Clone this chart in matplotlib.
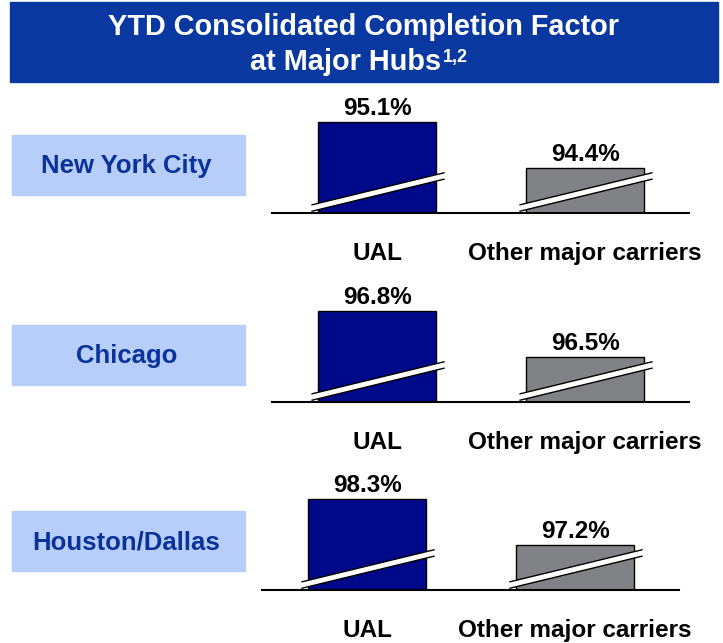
import matplotlib
matplotlib.use('Agg')
import matplotlib.pyplot as plt
from matplotlib.patches import Rectangle, Polygon
import numpy as np

# data
cities = ['New York City', 'Chicago', 'Houston/Dallas']
carriers = ['UAL', 'Other major carriers']
ual = [95.1, 96.8, 98.3]
others = [94.4, 96.5, 97.2]

# layout (pixels of the 723x643 picture)
W, H = 723, 643
base_px = [213, 402, 590]     # baseline of each panel
left_px = [272, 272, 262]     # left end of each baseline
box_top_px = [135, 325, 511]  # top of the light blue city box
ax_w, ax_h = 417, 125
ual_h = 91                    # drawn height of the UAL bar

navy = '#0838a0'
bar_colors = ['#00098a', '#808285']

plt.rcParams['font.family'] = ['Liberation Sans', 'DejaVu Sans']
fig = plt.figure(figsize=(W / 100, H / 100), dpi=100)


def fx(px):
    return px / W


def fy(py):
    return 1 - py / H


# title banner
fig.patches.append(Rectangle((fx(10), fy(82)), fx(708), 80 / H,
                             transform=fig.transFigure, color=navy, zorder=0))
fig.text(fx(363), fy(35), 'YTD Consolidated Completion Factor', color='white',
         fontsize=20.8, fontweight='bold', ha='center', va='baseline')
t2 = fig.text(fx(346), fy(70), 'at Major Hubs', color='white',
              fontsize=20.8, fontweight='bold', ha='center', va='baseline')
renderer = fig.canvas.get_renderer()
bb = t2.get_window_extent(renderer)
fig.text((bb.x1 + 1) / W, fy(62), '1,2', color='white', fontsize=13,
         fontweight='bold', ha='left', va='baseline')

for i in range(len(cities)):
    # city box
    fig.patches.append(Rectangle((fx(12), fy(box_top_px[i] + 60)), fx(233), 60 / H,
                                 transform=fig.transFigure, color='#b7cdfa', zorder=0))
    fig.text(fx(126.5), fy(box_top_px[i] + 38.5), cities[i], color='#0a3399',
             fontsize=18.5, fontweight='bold', ha='center', va='baseline')

    ax = fig.add_axes([fx(left_px[i]), fy(base_px[i]), fx(ax_w), ax_h / H])
    vals = [ual[i], others[i]]
    # broken axis: bottom chosen so the other bar is half as tall as UAL
    base = 2 * others[i] - ual[i]
    per = ual_h / (ual[i] - base)
    ax.set_ylim(base, base + ax_h / per)
    ax.set_xlim(-0.505, 1.5)

    bars = ax.bar([0, 1], vals, width=0.567, color=bar_colors,
                  edgecolor='black', linewidth=1)
    for s in ['top', 'right', 'left']:
        ax.spines[s].set_visible(False)
    ax.spines['bottom'].set_linewidth(1.5)
    ax.set_yticks([])
    ax.set_xticks([0, 1], carriers)
    ax.tick_params(axis='x', length=0, pad=21, labelsize=17.5)
    for lbl in ax.get_xticklabels():
        lbl.set_fontweight('bold')

    inv = ax.transData.inverted()
    for b, v in zip(bars, vals):
        ax.annotate(f'{v:.1f}%', (b.get_x() + b.get_width() / 2, v),
                    xytext=(0, 5), textcoords='offset points',
                    ha='center', va='baseline', fontsize=17.5, fontweight='bold')
        # diagonal break mark
        x0, y0 = ax.transData.transform((b.get_x(), base))
        x1, _ = ax.transData.transform((b.get_x() + b.get_width(), base))
        p0 = np.array([x0 - 6, y0 + 5])
        p1 = np.array([x1 + 8, y0 + 37])
        off = np.array([0, 3.2])
        poly = inv.transform([p0 - off, p1 - off, p1 + off, p0 + off])
        ax.add_patch(Polygon(poly, closed=True, facecolor='white', edgecolor='none',
                             clip_on=False, zorder=3))
        for sgn in (-1, 1):
            seg = inv.transform([p0 + sgn * off, p1 + sgn * off])
            ax.plot(seg[:, 0], seg[:, 1], color='black', lw=1, clip_on=False, zorder=4)

fig.savefig('out.png', dpi=100)
